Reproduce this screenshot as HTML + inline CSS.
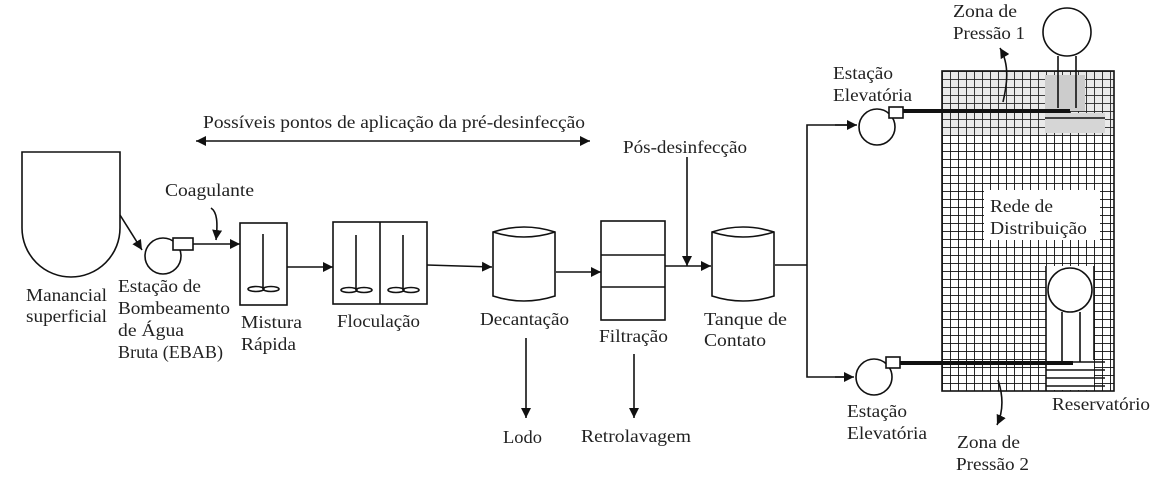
<!DOCTYPE html>
<html><head><meta charset="utf-8"><style>
body{margin:0;background:#fff}
svg{display:block}
text{font-family:"Liberation Serif",serif;font-size:18px;fill:#222}
</style></head><body>
<svg width="1174" height="483" viewBox="0 0 1174 483" xmlns="http://www.w3.org/2000/svg">
<defs>
<marker id="a" viewBox="0 0 10 10" refX="10" refY="5" markerWidth="10" markerHeight="10" markerUnits="userSpaceOnUse" orient="auto"><path d="M0,0L10,5L0,10z" fill="#111"/></marker>
<marker id="as" viewBox="0 0 10 10" refX="0" refY="5" markerWidth="10" markerHeight="10" markerUnits="userSpaceOnUse" orient="auto"><path d="M10,0L0,5L10,10z" fill="#111"/></marker>
<pattern id="g" x="942" y="71" width="8" height="8" patternUnits="userSpaceOnUse"><path d="M0,0H8M0,0V8" stroke="#111" stroke-width="1.8" fill="none"/></pattern>
</defs>
<g stroke="#111" stroke-width="1.6" fill="none">
<line x1="196" y1="141" x2="590" y2="141" marker-start="url(#as)" marker-end="url(#a)"/>
<path d="M22,152H120V228A49,49 0 0 1 22,228Z"/>
<line x1="120" y1="215" x2="142" y2="250" marker-end="url(#a)"/>
<circle cx="163" cy="256" r="18"/>
<rect x="173" y="238" width="20" height="12" fill="#fff"/>
<line x1="193" y1="244" x2="240" y2="244" marker-end="url(#a)"/>
<path d="M211,208C217,212 218,222 216,240" marker-end="url(#a)"/>
<rect x="240" y="223" width="47" height="82"/>
<line x1="263" y1="234" x2="263" y2="289"/>
<ellipse cx="256" cy="289" rx="8" ry="2.5"/><ellipse cx="271" cy="289" rx="8" ry="2.5"/>
<line x1="287" y1="267" x2="333" y2="267" marker-end="url(#a)"/>
<rect x="333" y="222" width="94" height="82"/><line x1="380" y1="222" x2="380" y2="304"/>
<line x1="356" y1="235" x2="356" y2="290"/><line x1="403" y1="235" x2="403" y2="290"/>
<ellipse cx="349" cy="290" rx="8" ry="2.5"/><ellipse cx="364" cy="290" rx="8" ry="2.5"/>
<ellipse cx="396" cy="290" rx="8" ry="2.5"/><ellipse cx="411" cy="290" rx="8" ry="2.5"/>
<line x1="427" y1="265" x2="492" y2="267" marker-end="url(#a)"/>
<path d="M493,232Q524,222 555,232V296Q524,306 493,296Z"/><path d="M493,232Q524,242 555,232"/>
<line x1="556" y1="272" x2="601" y2="272" marker-end="url(#a)"/>
<line x1="526" y1="338" x2="526" y2="418" marker-end="url(#a)"/>
<rect x="601" y="221" width="64" height="99"/><line x1="601" y1="255" x2="665" y2="255"/><line x1="601" y1="287" x2="665" y2="287"/>
<line x1="634" y1="354" x2="634" y2="418" marker-end="url(#a)"/>
<line x1="665" y1="266" x2="711" y2="266" marker-end="url(#a)"/>
<line x1="687" y1="157" x2="687" y2="266" marker-end="url(#a)"/>
<path d="M712,232Q743,222 774,232V296Q743,306 712,296Z"/><path d="M712,232Q743,242 774,232"/>
<line x1="775" y1="265" x2="807" y2="265"/>
<path d="M847,125H807V377H847"/>
<line x1="835" y1="125" x2="857" y2="125" marker-end="url(#a)"/>
<line x1="835" y1="377" x2="854" y2="377" marker-end="url(#a)"/>
<circle cx="877" cy="127" r="18"/><rect x="889" y="107" width="14" height="11" fill="#fff"/>
<circle cx="874" cy="377" r="18"/><rect x="886" y="357" width="14" height="11" fill="#fff"/>
</g>
<rect x="942" y="71" width="172" height="320" fill="url(#g)"/>
<rect x="942" y="71" width="172" height="64" fill="#888" opacity="0.18"/>
<rect x="1045" y="75" width="40" height="36" fill="#fff"/>
<rect x="1045" y="75" width="40" height="36" fill="#999" opacity="0.5"/>
<rect x="1045" y="113" width="60" height="20" fill="#fff"/>
<rect x="1045" y="113" width="60" height="20" fill="#999" opacity="0.4"/>
<g stroke="#111" stroke-width="1.6" fill="none">
<rect x="942" y="71" width="172" height="320"/>
<circle cx="1067" cy="32" r="24" fill="#fff"/>
<line x1="1058" y1="56" x2="1058" y2="108"/><line x1="1076" y1="56" x2="1076" y2="108"/>
<line x1="1045" y1="118" x2="1105" y2="118"/>
</g>
<rect x="984" y="190" width="116" height="50" fill="#fff"/>
<rect x="1046" y="266" width="48" height="124" fill="#fff"/>
<g stroke="#111" stroke-width="1.6" fill="none">
<circle cx="1070" cy="290" r="22" fill="#fff"/>
<line x1="1062" y1="312" x2="1062" y2="362"/><line x1="1080" y1="312" x2="1080" y2="362"/>
<line x1="1046" y1="362" x2="1105" y2="362"/><line x1="1046" y1="370" x2="1105" y2="370"/><line x1="1046" y1="378" x2="1105" y2="378"/><line x1="1046" y1="386" x2="1105" y2="386"/>
<line x1="1046" y1="266" x2="1046" y2="391"/><line x1="1094" y1="266" x2="1094" y2="360"/>
<path d="M1003,102C1007,85 1010,65 1000,48" marker-end="url(#a)"/>
<path d="M998,380C1003,395 1004,410 997,425" marker-end="url(#a)"/>
</g>
<line x1="903" y1="111" x2="1070" y2="111" stroke="#111" stroke-width="4"/>
<line x1="900" y1="363" x2="1073" y2="363" stroke="#111" stroke-width="4"/>
<g lengthAdjust="spacingAndGlyphs">
<text x="203" y="128" textLength="382" lengthAdjust="spacingAndGlyphs">Possíveis pontos de aplicação da pré-desinfecção</text>
<text x="165" y="196" textLength="89" lengthAdjust="spacingAndGlyphs">Coagulante</text>
<text x="26" y="301" textLength="81" lengthAdjust="spacingAndGlyphs">Manancial</text><text x="26" y="322" textLength="81" lengthAdjust="spacingAndGlyphs">superficial</text>
<text x="118" y="292" textLength="83" lengthAdjust="spacingAndGlyphs">Estação de</text><text x="118" y="314" textLength="112" lengthAdjust="spacingAndGlyphs">Bombeamento</text><text x="118" y="336" textLength="66" lengthAdjust="spacingAndGlyphs">de Água</text><text x="118" y="358" textLength="105" lengthAdjust="spacingAndGlyphs">Bruta (EBAB)</text>
<text x="241" y="328" textLength="61" lengthAdjust="spacingAndGlyphs">Mistura</text><text x="241" y="350" textLength="55" lengthAdjust="spacingAndGlyphs">Rápida</text>
<text x="337" y="327" textLength="83" lengthAdjust="spacingAndGlyphs">Floculação</text>
<text x="480" y="325" textLength="89" lengthAdjust="spacingAndGlyphs">Decantação</text>
<text x="599" y="342" textLength="69" lengthAdjust="spacingAndGlyphs">Filtração</text>
<text x="704" y="325" textLength="83" lengthAdjust="spacingAndGlyphs">Tanque de</text><text x="704" y="346" textLength="62" lengthAdjust="spacingAndGlyphs">Contato</text>
<text x="623" y="153" textLength="124" lengthAdjust="spacingAndGlyphs">Pós-desinfecção</text>
<text x="503" y="443" textLength="39" lengthAdjust="spacingAndGlyphs">Lodo</text>
<text x="581" y="442" textLength="110" lengthAdjust="spacingAndGlyphs">Retrolavagem</text>
<text x="833" y="79" textLength="60" lengthAdjust="spacingAndGlyphs">Estação</text><text x="833" y="101" textLength="79" lengthAdjust="spacingAndGlyphs">Elevatória</text>
<text x="847" y="417" textLength="60" lengthAdjust="spacingAndGlyphs">Estação</text><text x="847" y="439" textLength="80" lengthAdjust="spacingAndGlyphs">Elevatória</text>
<text x="953" y="17" textLength="64" lengthAdjust="spacingAndGlyphs">Zona de</text><text x="953" y="39" textLength="72" lengthAdjust="spacingAndGlyphs">Pressão 1</text>
<text x="957" y="448" textLength="63" lengthAdjust="spacingAndGlyphs">Zona de</text><text x="956" y="470" textLength="73" lengthAdjust="spacingAndGlyphs">Pressão 2</text>
<text x="990" y="212" textLength="63" lengthAdjust="spacingAndGlyphs">Rede de</text><text x="990" y="234" textLength="97" lengthAdjust="spacingAndGlyphs">Distribuição</text>
<text x="1052" y="410" textLength="98" lengthAdjust="spacingAndGlyphs">Reservatório</text>
</g>
</svg>
</body></html>
